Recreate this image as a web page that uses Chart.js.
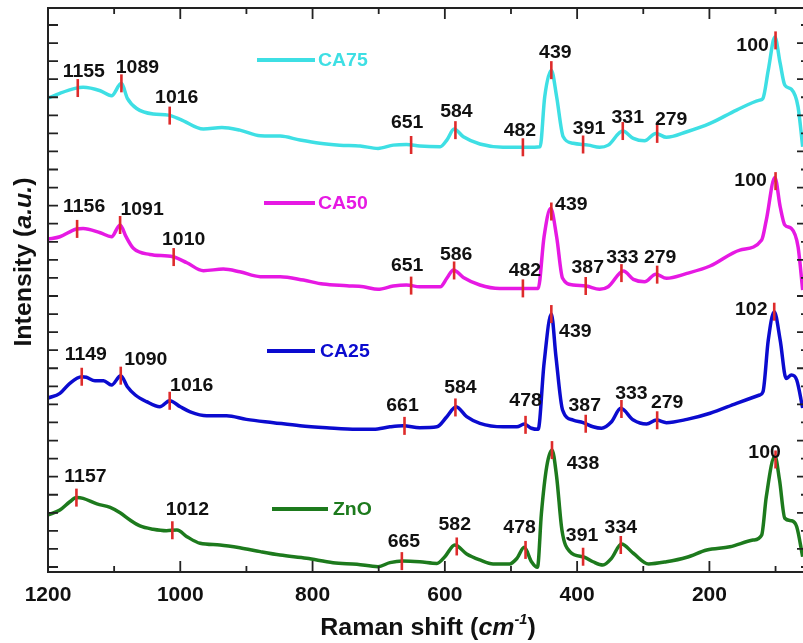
<!DOCTYPE html>
<html><head><meta charset="utf-8">
<script src="https://cdn.jsdelivr.net/npm/chart.js@4/dist/chart.umd.min.js"></script>
<style>html,body{margin:0;padding:0;overflow:hidden;background:#fff}</style>
</head><body>
<canvas id="c" width="803" height="643" style="display:block;width:803px;height:643px"></canvas>
<script>
// ---------------- DATA ----------------
const xTickLabels = [1200, 1000, 800, 600, 400, 200];

const ca75Shift = [1200,1182,1159,1147,1121,1104,1089,1080,1066,1041,1018,1000,965,937,910,879,849,819,789,759,728,701,678,658,638,607,597,586,572,547,512,476,456,449,439,431,421,406,383,366,353,331,315,298,281,265,234,199,159,124,119,111,101,93,86,76,66,59];
const ca75Int   = [25.95,26.22,26.49,26.55,26.36,26.08,26.77,25.94,25.38,25.07,25.01,24.78,24.24,24.33,24.18,23.87,23.85,23.63,23.45,23.35,23.30,23.17,23.35,23.39,23.30,23.26,23.63,24.24,23.81,23.41,23.23,23.23,23.26,26.03,27.50,26.03,23.81,23.45,23.35,23.23,23.35,24.13,23.72,23.59,24.00,23.78,24.09,24.55,25.29,25.84,25.94,27.50,29.33,27.87,26.67,26.44,25.47,23.26];

const ca50Shift = [1200,1182,1157,1147,1121,1104,1091,1082,1071,1046,1011,990,965,935,910,879,849,814,784,748,723,701,678,658,638,607,597,587,572,547,517,476,459,450,440,431,422,406,386,366,353,330,315,298,281,265,234,199,154,121,114,101,93,86,76,66,59];
const ca50Int   = [18.15,18.28,18.71,18.74,18.50,18.28,18.93,18.28,17.64,17.30,17.17,16.84,16.40,16.49,16.34,16.07,16.07,15.88,15.66,15.57,15.51,15.37,15.55,15.61,15.51,15.51,15.98,16.44,16.03,15.61,15.42,15.42,15.42,18.28,19.85,18.28,15.98,15.61,15.55,15.37,15.51,16.38,15.92,15.79,16.21,15.98,16.25,16.66,17.54,18.10,19.20,21.56,19.94,18.93,18.74,17.73,15.33];

const ca25Shift = [1200,1182,1167,1149,1142,1129,1116,1104,1090,1080,1068,1051,1031,1016,1000,985,960,930,900,859,819,779,733,708,683,663,638,612,597,583,567,547,512,491,480,469,459,450,439,432,422,406,391,376,363,348,334,315,295,280,265,234,199,159,124,119,111,102,93,84,76,68,59];
const ca25Int   = [9.35,9.61,10.17,10.53,10.50,10.31,10.31,10.07,10.59,9.98,9.52,9.15,8.87,9.20,8.87,8.59,8.37,8.37,8.17,7.99,7.82,7.71,7.62,7.62,7.76,7.82,7.71,7.76,8.32,8.87,8.32,7.95,7.76,7.76,7.91,7.68,7.62,11.27,14.00,11.64,8.69,8.13,7.99,7.76,7.68,8.04,8.78,8.13,7.91,8.13,7.99,8.17,8.51,9.06,9.52,9.70,12.56,14.13,12.56,10.44,10.63,10.35,8.80];

const znoShift = [1200,1182,1167,1157,1147,1126,1106,1091,1076,1061,1041,1021,1005,990,970,940,910,879,849,809,769,733,701,683,664,638,612,600,585,567,547,527,502,491,480,469,460,454,446,438,431,423,411,389,376,361,348,333,315,292,265,234,204,169,134,121,114,101,94,86,76,68,59];
const znoInt   = [2.88,3.15,3.61,3.84,3.80,3.49,3.30,3.00,2.60,2.27,2.09,2.01,2.05,1.68,1.31,1.22,1.07,0.85,0.66,0.48,0.24,0.15,0.02,0.24,0.33,0.29,0.20,0.57,1.22,0.72,0.39,0.17,0.17,0.48,1.09,0.29,-0.02,2.97,5.55,6.47,5.00,2.05,0.85,0.54,0.29,0.11,0.48,1.27,0.76,0.17,0.29,0.54,0.94,1.12,1.49,1.77,3.89,6.14,4.81,2.70,2.56,2.23,0.57];

// peak positions (labels) per spectrum
const ca75Peaks = [1155,1089,1016,651,584,482,439,391,331,279,100];
const ca50Peaks = [1156,1091,1010,651,586,482,439,387,333,279,100];
const ca25Peaks = [1149,1090,1016,661,584,478,439,387,333,279,102];
const znoPeaks  = [1157,1012,665,582,478,438,391,334,100];

// ---------------- LAYOUT / STYLE ----------------
// label offsets (px) relative to marker centre: [dx of label centre, dy of label baseline]
const ca75LabelOffsets = [[6,-11],[16,-10],[7,-13],[-4,-17],[1,-13],[-3,-11],[4,-12],[6,-11],[5,-8],[14,-9],[-23,11]];
const ca50LabelOffsets = [[7,-17],[22,-10],[10,-12],[-4,-15],[2,-10],[2,-12],[20,-2],[2,-13],[1,-10],[3,-12],[-25,5]];
const ca25LabelOffsets = [[4,-17],[25,-11],[22,-10],[-2,-15],[5,-14],[0,-19],[24,23],[-1,-13],[10,-10],[10,-12],[-23,3]];
const znoLabelOffsets  = [[9,-16],[15,-15],[2,-14],[-2,-16],[-6,-17],[31,19],[-1,-16],[0,-12],[-11,-1]];

const legendLayout = [
  {x0:257, x1:315, y:60,  tx:318},
  {x0:264, x1:315, y:203, tx:318},
  {x0:267, x1:315, y:351, tx:320},
  {x0:272, x1:328, y:509, tx:333}
];

const FONT = '"Liberation Sans", Arial, Helvetica, sans-serif';
const STRETCH = 1.08;

const SERIES = [
  {name:'CA75', shift:ca75Shift, inten:ca75Int, color:'#3EDFE4', peaks:ca75Peaks, offs:ca75LabelOffsets, leg:legendLayout[0]},
  {name:'CA50', shift:ca50Shift, inten:ca50Int, color:'#E619E3', peaks:ca50Peaks, offs:ca50LabelOffsets, leg:legendLayout[1]},
  {name:'CA25', shift:ca25Shift, inten:ca25Int, color:'#0B0BCF', peaks:ca25Peaks, offs:ca25LabelOffsets, leg:legendLayout[2]},
  {name:'ZnO',  shift:znoShift,  inten:znoInt,  color:'#1D7A1D', peaks:znoPeaks,  offs:znoLabelOffsets,  leg:legendLayout[3]}
];

function interpY(xs, ys, x) {
  for (let i = 0; i < xs.length - 1; i++) {
    const a = xs[i], b = xs[i+1];
    if ((x <= a && x >= b) || (x >= a && x <= b)) {
      const t = (x - a) / (b - a);
      return ys[i] + t * (ys[i+1] - ys[i]);
    }
  }
  return ys[ys.length - 1];
}

function stretchedText(ctx, text, x, y, align) {
  ctx.save();
  ctx.translate(x, y);
  ctx.scale(STRETCH, 1);
  ctx.textAlign = align;
  ctx.fillText(text, 0, 0);
  ctx.restore();
}

const peakPlugin = {
  id: 'peaks',
  afterDatasetsDraw(chart) {
    const ctx = chart.ctx, xs = chart.scales.x, ys = chart.scales.y;
    ctx.save();
    SERIES.forEach(s => {
      s.peaks.forEach((p, i) => {
        const px = xs.getPixelForValue(p);
        const py = ys.getPixelForValue(interpY(s.shift, s.inten, p));
        ctx.strokeStyle = '#DE2B2B';
        ctx.lineWidth = 2.6;
        ctx.beginPath(); ctx.moveTo(px, py - 9); ctx.lineTo(px, py + 9); ctx.stroke();
        const o = s.offs[i];
        ctx.fillStyle = '#111';
        ctx.font = 'bold 18px ' + FONT;
        ctx.textBaseline = 'alphabetic';
        stretchedText(ctx, String(p), px + o[0], py + o[1], 'center');
      });
    });
    ctx.restore();
  }
};

const framePlugin = {
  id: 'frame',
  afterDraw(chart) {
    const ctx = chart.ctx, a = chart.chartArea, xs = chart.scales.x, ys = chart.scales.y;
    ctx.save();
    ctx.strokeStyle = '#222';
    ctx.lineWidth = 2;
    ctx.beginPath();
    ctx.moveTo(a.right + 2, a.top); ctx.lineTo(a.left, a.top); ctx.lineTo(a.left, a.bottom); ctx.lineTo(a.right + 2, a.bottom);
    ctx.stroke();
    ctx.lineWidth = 1.8;
    ctx.beginPath();
    xs.ticks.forEach(t => {
      const px = xs.getPixelForValue(t.value);
      const len = (t.value % 200 === 0) ? 11 : 6;
      ctx.moveTo(px, a.bottom); ctx.lineTo(px, a.bottom - len);
      ctx.moveTo(px, a.top); ctx.lineTo(px, a.top + len);
    });
    ys.ticks.forEach(t => {
      const py = ys.getPixelForValue(t.value);
      ctx.moveTo(a.left, py); ctx.lineTo(a.left + 10, py);
      const len = (t.value % 2 === 1) ? 6 : 2;
      ctx.moveTo(a.right, py); ctx.lineTo(a.right - len, py);
    });
    ctx.stroke();
    ctx.restore();
  }
};

const legendPlugin = {
  id: 'customLegend',
  afterDraw(chart) {
    const ctx = chart.ctx;
    ctx.save();
    SERIES.forEach(s => {
      const L = s.leg;
      ctx.strokeStyle = s.color; ctx.lineWidth = 4;
      ctx.beginPath(); ctx.moveTo(L.x0, L.y); ctx.lineTo(L.x1, L.y); ctx.stroke();
      ctx.fillStyle = s.color;
      ctx.font = 'bold 18px ' + FONT;
      ctx.textBaseline = 'middle';
      stretchedText(ctx, s.name, L.tx, L.y + 1, 'left');
    });
    ctx.restore();
  }
};

function drawRuns(ctx, runs, startX, baseY) {
  let x = startX;
  runs.forEach(r => {
    ctx.font = r.font;
    ctx.fillText(r.t, x, baseY + (r.dy || 0));
    x += ctx.measureText(r.t).width;
  });
}
function runsWidth(ctx, runs) {
  let w = 0;
  runs.forEach(r => { ctx.font = r.font; w += ctx.measureText(r.t).width; });
  return w;
}

const titlePlugin = {
  id: 'titles',
  afterDraw(chart) {
    const ctx = chart.ctx;
    ctx.save();
    ctx.fillStyle = '#111';
    ctx.textAlign = 'left';
    ctx.textBaseline = 'alphabetic';
    const big = 'bold 24px ' + FONT, bigI = 'italic bold 24px ' + FONT, sup = 'italic bold 14px ' + FONT;
    const xr = [{t:'Raman shift (', font:big}, {t:'cm', font:bigI}, {t:'-1', font:sup, dy:-11}, {t:')', font:big}];
    const wx = runsWidth(ctx, xr);
    ctx.save();
    ctx.translate(428, 635);
    ctx.scale(1.04, 1);
    drawRuns(ctx, xr, -wx / 2, 0);
    ctx.restore();
    const yr = [{t:'Intensity (', font:big}, {t:'a.u.', font:bigI}, {t:')', font:big}];
    const wy = runsWidth(ctx, yr);
    ctx.translate(31, 262);
    ctx.rotate(-Math.PI / 2);
    ctx.scale(1.04, 1);
    drawRuns(ctx, yr, -wy / 2, 0);
    ctx.restore();
  }
};

new Chart(document.getElementById('c').getContext('2d'), {
  type: 'line',
  data: {
    datasets: SERIES.map(s => ({
      label: s.name,
      data: s.shift.map((x, i) => ({x: x, y: s.inten[i]})),
      borderColor: s.color,
      borderWidth: 3.5,
      pointRadius: 0,
      fill: false,
      cubicInterpolationMode: 'monotone'
    }))
  },
  options: {
    responsive: false,
    animation: false,
    events: [],
    layout: {padding: {top: 8, right: 0, left: 0, bottom: 0}},
    plugins: {legend: {display: false}, tooltip: {enabled: false}},
    scales: {
      x: {
        type: 'linear', reverse: true, min: 58.5, max: 1200,
        border: {display: false},
        grid: {display: false, drawTicks: false},
        ticks: {
          stepSize: 100, autoSkip: false, maxRotation: 0, includeBounds: false, padding: 11,
          color: '#111', font: {family: FONT, size: 21, weight: 'bold'},
          callback: v => xTickLabels.includes(v) ? String(v) : ''
        },
        afterFit(s) { s.height = 71; }
      },
      y: {
        type: 'linear', min: -0.277, max: 30.94,
        border: {display: false},
        grid: {display: false, drawTicks: false},
        ticks: {display: false, stepSize: 1, includeBounds: false, autoSkip: false},
        afterFit(s) { s.width = 48; }
      }
    }
  },
  plugins: [peakPlugin, framePlugin, legendPlugin, titlePlugin]
});
</script>
</body></html>
